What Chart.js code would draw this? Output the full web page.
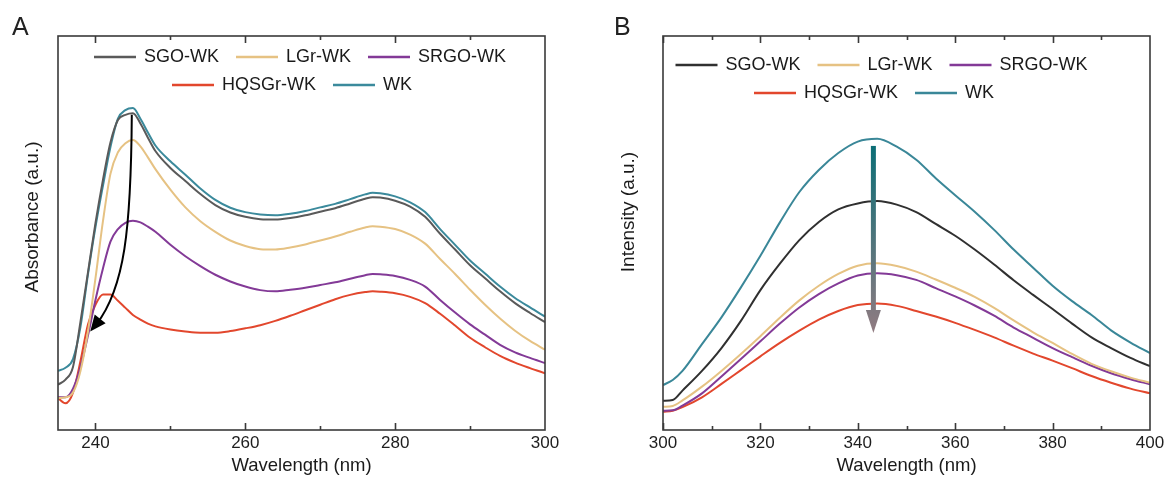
<!DOCTYPE html>
<html>
<head>
<meta charset="utf-8">
<script src="https://cdn.jsdelivr.net/npm/chart.js@4.4.1/dist/chart.umd.min.js"></script>
<style>
  body { margin: 0; background: #fff; }
  #wrap { position: relative; width: 1169px; height: 477px; }
  .painel { position: absolute; top: 0; height: 477px; }
</style>
</head>
<body>
<div id="wrap">
  <div class="painel" style="left:0;width:584px"><canvas id="grafico_a"></canvas></div>
  <div class="painel" style="left:584px;width:585px"><canvas id="grafico_b"></canvas></div>
</div>
<script>
// ---- dados (A: absorbancia UV, B: fluorescencia), unidades arbitrarias 0..1
const nomes = ['SGO-WK', 'LGr-WK', 'SRGO-WK', 'HQSGr-WK', 'WK']

const comprimento_a = [235, 236, 237, 238, 239, 240, 241, 242, 243, 244, 245, 246, 247, 248, 250, 252, 254, 256, 258, 260,
  262, 264, 266, 268, 270, 272, 274, 276, 277, 278, 280, 282, 284, 286, 288, 290, 292, 294, 296, 298, 300]
const sgo_a = [0.115, 0.128, 0.160, 0.275, 0.400, 0.525, 0.635, 0.730, 0.787, 0.800, 0.804, 0.778, 0.742, 0.708, 0.665, 0.632, 0.599, 0.571, 0.552, 0.541,
  0.535, 0.534, 0.538, 0.545, 0.554, 0.563, 0.575, 0.587, 0.591, 0.590, 0.582, 0.567, 0.541, 0.498, 0.458, 0.418, 0.385, 0.352, 0.322, 0.297, 0.274]
const lgr_a = [0.081, 0.083, 0.095, 0.150, 0.250, 0.385, 0.530, 0.650, 0.705, 0.728, 0.736, 0.720, 0.692, 0.662, 0.610, 0.565, 0.530, 0.503, 0.481, 0.467,
  0.459, 0.458, 0.463, 0.471, 0.481, 0.491, 0.503, 0.514, 0.517, 0.516, 0.510, 0.496, 0.473, 0.434, 0.396, 0.356, 0.318, 0.283, 0.252, 0.226, 0.204]
const srgo_a = [0.083, 0.083, 0.105, 0.160, 0.240, 0.330, 0.410, 0.478, 0.510, 0.526, 0.531, 0.527, 0.516, 0.503, 0.470, 0.441, 0.416, 0.394, 0.377, 0.364,
  0.355, 0.352, 0.356, 0.361, 0.368, 0.375, 0.384, 0.393, 0.396, 0.395, 0.391, 0.381, 0.364, 0.330, 0.298, 0.268, 0.242, 0.216, 0.197, 0.183, 0.170]
const hqsgr_a = [0.081, 0.068, 0.095, 0.175, 0.268, 0.318, 0.344, 0.344, 0.328, 0.310, 0.292, 0.280, 0.270, 0.263, 0.255, 0.250, 0.247, 0.247, 0.251, 0.258,
  0.266, 0.277, 0.290, 0.304, 0.318, 0.332, 0.343, 0.350, 0.352, 0.351, 0.347, 0.338, 0.322, 0.295, 0.265, 0.234, 0.210, 0.188, 0.171, 0.157, 0.144]
const wk_a = [0.150, 0.158, 0.180, 0.262, 0.395, 0.515, 0.620, 0.718, 0.790, 0.812, 0.817, 0.790, 0.755, 0.722, 0.682, 0.648, 0.613, 0.584, 0.564, 0.553,
  0.547, 0.545, 0.549, 0.556, 0.565, 0.574, 0.586, 0.598, 0.602, 0.601, 0.593, 0.578, 0.553, 0.510, 0.470, 0.430, 0.397, 0.364, 0.335, 0.311, 0.288]

const comprimento_b = [300, 302, 304, 308, 312, 316, 320, 324, 328, 332, 336, 340, 344, 348, 352, 356, 360, 364, 368, 372, 376, 380, 384, 388, 392, 396, 400]
const sgo_b = [0.074, 0.076, 0.100, 0.150, 0.208, 0.277, 0.355, 0.422, 0.482, 0.528, 0.560, 0.575, 0.581, 0.572, 0.553, 0.523, 0.493, 0.458, 0.420, 0.380, 0.343, 0.307, 0.270, 0.235, 0.208, 0.183, 0.162]
const lgr_b = [0.059, 0.061, 0.075, 0.110, 0.150, 0.193, 0.238, 0.285, 0.329, 0.366, 0.396, 0.417, 0.423, 0.416, 0.402, 0.382, 0.361, 0.338, 0.310, 0.278, 0.248, 0.221, 0.193, 0.168, 0.149, 0.133, 0.120]
const srgo_b = [0.049, 0.050, 0.062, 0.093, 0.136, 0.180, 0.225, 0.270, 0.311, 0.345, 0.372, 0.392, 0.398, 0.393, 0.381, 0.360, 0.339, 0.316, 0.290, 0.260, 0.234, 0.208, 0.185, 0.163, 0.144, 0.129, 0.116]
const hqsgr_b = [0.046, 0.049, 0.058, 0.083, 0.117, 0.152, 0.187, 0.221, 0.252, 0.280, 0.302, 0.317, 0.321, 0.315, 0.302, 0.288, 0.272, 0.254, 0.235, 0.214, 0.194, 0.176, 0.157, 0.137, 0.120, 0.105, 0.093]
const wk_b = [0.114, 0.127, 0.150, 0.218, 0.286, 0.362, 0.442, 0.527, 0.604, 0.660, 0.703, 0.732, 0.739, 0.719, 0.686, 0.639, 0.596, 0.554, 0.508, 0.458, 0.412, 0.366, 0.327, 0.292, 0.253, 0.222, 0.195]

const ticks_a = [240, 260, 280, 300]
const ticks_b = [300, 320, 340, 360, 380, 400]

// setas (em unidades dos eixos)
const seta_a = [[244.85, 0.80], [244.75, 0.51], [243.9, 0.36], [239.3, 0.25]]
const seta_b = [[343.2, 0.721], [343.2, 0.246]]

const fonte = '"Liberation Sans", Arial, sans-serif'
const cores_a = ['#5a5a5a', '#e6c283', '#833a97', '#e2472d', '#3b8a9c']
const cores_b = ['#303030', '#e6c283', '#833a97', '#e2472d', '#3a8798']

const monta_series = (xs, series, cores) => series.map((s, i) => ({
  label: nomes[i],
  data: xs.map((x, j) => ({x: x, y: s[j]})),
  borderColor: cores[i],
  borderWidth: 2,
  pointRadius: 0,
  cubicInterpolationMode: 'monotone',
  fill: false
}))

// moldura, ticks para dentro, legenda, titulo do eixo y, letra do painel e seta
const extras = {
  id: 'extras',
  afterDraw(chart, args, op) {
    const ctx = chart.ctx
    const a = chart.chartArea
    const sx = chart.scales.x, sy = chart.scales.y
    ctx.save()

    ctx.strokeStyle = '#3a3a3a'
    ctx.lineWidth = 1.6
    for (let v = Math.ceil(sx.min / 10) * 10; v < sx.max; v += 10) {
      const px = Math.round(sx.getPixelForValue(v)) + 0.5
      const len = v % 20 == 0 ? 7 : 4
      ctx.beginPath()
      ctx.moveTo(px, a.bottom); ctx.lineTo(px, a.bottom - len)
      ctx.moveTo(px, a.top); ctx.lineTo(px, a.top + len)
      ctx.stroke()
    }
    ctx.strokeRect(a.left, a.top, a.right - a.left, a.bottom - a.top)

    // legenda
    ctx.font = '18px ' + fonte
    ctx.textBaseline = 'middle'
    ctx.textAlign = 'left'
    op.linhas.forEach((linha, r) => {
      let x = a.left + op.legX[r]
      const y = a.top + op.legY[r]
      linha.forEach(k => {
        ctx.strokeStyle = op.cores[k]
        ctx.lineWidth = 2.5
        ctx.beginPath(); ctx.moveTo(x, y); ctx.lineTo(x + 42, y); ctx.stroke()
        x += 50
        ctx.fillStyle = '#1a1a1a'
        ctx.fillText(nomes[k], x, y)
        x += ctx.measureText(nomes[k]).width + 17
      })
    })

    // titulo y (centro do texto em tituloDx a esquerda da area)
    ctx.save()
    ctx.translate(a.left - op.tituloDx, a.top + op.tituloDy)
    ctx.rotate(-Math.PI / 2)
    ctx.textAlign = 'center'
    ctx.textBaseline = 'middle'
    ctx.font = '19px ' + fonte
    ctx.fillStyle = '#1a1a1a'
    ctx.fillText(op.tituloY, 0, 0)
    ctx.restore()

    // letra
    ctx.font = '25px ' + fonte
    ctx.textBaseline = 'alphabetic'
    ctx.fillStyle = '#222'
    ctx.fillText(op.letra, op.letraX, 35)

    // seta
    const p = op.seta.map(q => [sx.getPixelForValue(q[0]), sy.getPixelForValue(q[1])])
    if (p.length == 4) {
      ctx.strokeStyle = '#000'
      ctx.lineWidth = 2
      ctx.beginPath()
      ctx.moveTo(p[0][0], p[0][1])
      ctx.bezierCurveTo(p[1][0], p[1][1], p[2][0], p[2][1], p[3][0] + 6, p[3][1] - 7)
      ctx.stroke()
      const ang = Math.atan2(p[3][1] - p[2][1], p[3][0] - p[2][0])
      const L = 16, W = 7
      const bx = p[3][0] - L * Math.cos(ang), by = p[3][1] - L * Math.sin(ang)
      ctx.fillStyle = '#000'
      ctx.beginPath()
      ctx.moveTo(p[3][0], p[3][1])
      ctx.lineTo(bx + W * Math.sin(ang), by - W * Math.cos(ang))
      ctx.lineTo(bx - W * Math.sin(ang), by + W * Math.cos(ang))
      ctx.closePath()
      ctx.fill()
    } else {
      const x = p[0][0], y0 = p[0][1], y1 = p[1][1]
      const g = ctx.createLinearGradient(0, y0, 0, y1)
      g.addColorStop(0, '#0c6e76')
      g.addColorStop(1, '#917b81')
      ctx.fillStyle = g
      ctx.fillRect(x - 2.5, y0, 5, y1 - y0 - 22)
      ctx.beginPath()
      ctx.moveTo(x, y1)
      ctx.lineTo(x - 7.5, y1 - 23)
      ctx.lineTo(x + 7.5, y1 - 23)
      ctx.closePath()
      ctx.fill()
    }
    ctx.restore()
  }
}

const monta_config = (xs, series, cores, xmin, xmax, ticks_x, larguraY, padDir, extra) => ({
  type: 'line',
  data: {datasets: monta_series(xs, series, cores)},
  options: {
    responsive: true,
    maintainAspectRatio: false,
    animation: false,
    layout: {padding: {left: 0, top: 36, right: padDir, bottom: 0}},
    plugins: {legend: {display: false}, tooltip: {enabled: false}, extras: extra},
    scales: {
      x: {
        type: 'linear', min: xmin, max: xmax,
        grid: {display: false, drawTicks: false},
        border: {display: false},
        afterBuildTicks: s => { s.ticks = ticks_x.map(v => ({value: v})) },
        afterFit: s => { s.height = 47 },
        ticks: {color: '#1e1e1e', font: {family: fonte, size: 17}, padding: 3, maxRotation: 0, autoSkip: false},
        title: {display: true, text: 'Wavelength (nm)', color: '#1a1a1a', font: {family: fonte, size: 18.5}, padding: {top: 0, bottom: 0}}
      },
      y: {
        min: 0, max: 1,
        grid: {display: false, drawTicks: false},
        border: {display: false},
        ticks: {display: false},
        afterFit: s => { s.width = larguraY }
      }
    }
  },
  plugins: [extras]
})

new Chart(document.getElementById('grafico_a'), monta_config(
  comprimento_a, [sgo_a, lgr_a, srgo_a, hqsgr_a, wk_a], cores_a, 235, 300, ticks_a, 58, 39,
  {cores: cores_a, linhas: [[0, 1, 2], [3, 4]], legX: [36, 114], legY: [21, 49],
   tituloY: 'Absorbance (a.u.)', tituloDx: 25.5, tituloDy: 181, letra: 'A', letraX: 12, seta: seta_a}))

new Chart(document.getElementById('grafico_b'), monta_config(
  comprimento_b, [sgo_b, lgr_b, srgo_b, hqsgr_b, wk_b], cores_b, 300, 400, ticks_b, 79, 19,
  {cores: cores_b, linhas: [[0, 1, 2], [3, 4]], legX: [12.5, 91], legY: [29, 57],
   tituloY: 'Intensity (a.u.)', tituloDx: 34, tituloDy: 176, letra: 'B', letraX: 30, seta: seta_b}))
</script>
</body>
</html>
